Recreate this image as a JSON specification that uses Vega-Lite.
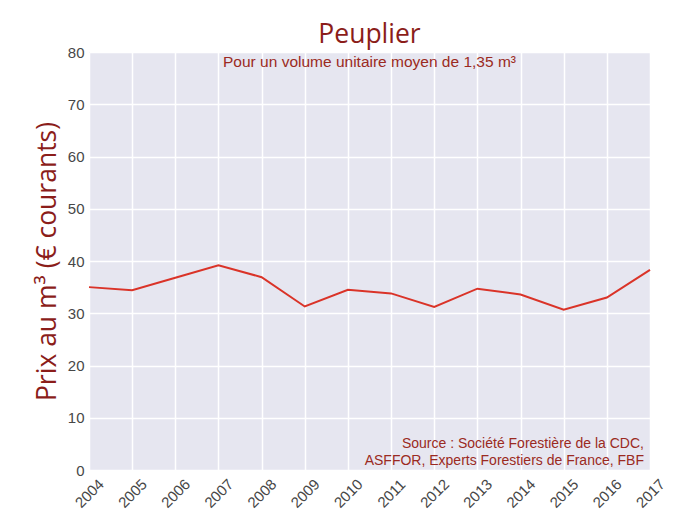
{
  "$schema": "https://vega.github.io/schema/vega-lite/v6.json",
  "autosize": {"type": "none"},
  "width": 561,
  "height": 418,
  "padding": {"left": 89, "top": 52, "right": 33, "bottom": 53},
  "background": "white",
  "title": {
    "text": "Peuplier",
    "anchor": "middle",
    "font": "Open Sans",
    "fontSize": 26.5,
    "fontWeight": "normal",
    "color": "#8B1D1A",
    "offset": -3
  },
  "config": {
    "view": {"fill": "#E6E6F0", "stroke": null},
    "axis": {
      "domain": false,
      "ticks": false,
      "grid": true,
      "gridColor": "#FFFFFF",
      "gridWidth": 1.5,
      "labelFont": "Liberation Sans",
      "labelFontSize": 15,
      "labelColor": "#474747"
    }
  },
  "layer": [
    {
      "data": {
        "values": [
          {"year": 2004, "price": 35.0},
          {"year": 2005, "price": 34.4},
          {"year": 2006, "price": 36.8},
          {"year": 2007, "price": 39.2},
          {"year": 2008, "price": 36.9},
          {"year": 2009, "price": 31.3},
          {"year": 2010, "price": 34.5},
          {"year": 2011, "price": 33.8},
          {"year": 2012, "price": 31.2},
          {"year": 2013, "price": 34.7},
          {"year": 2014, "price": 33.6},
          {"year": 2015, "price": 30.7},
          {"year": 2016, "price": 33.0},
          {"year": 2017, "price": 38.3}
        ]
      },
      "mark": {"type": "line", "color": "#DA3328", "strokeWidth": 2},
      "encoding": {
        "x": {
          "field": "year",
          "type": "quantitative",
          "scale": {"domain": [2004, 2017], "nice": false, "zero": false},
          "axis": {
            "title": null,
            "values": [2004, 2005, 2006, 2007, 2008, 2009, 2010, 2011, 2012, 2013, 2014, 2015, 2016, 2017],
            "format": "d",
            "labelAngle": -45,
            "labelAlign": "center",
            "labelBaseline": "middle",
            "labelPadding": 23,
            "labelOverlap": false,
            "labelBound": false,
            "labelFlush": false
          }
        },
        "y": {
          "field": "price",
          "type": "quantitative",
          "scale": {"domain": [0, 80], "nice": false},
          "axis": {
            "values": [0, 10, 20, 30, 40, 50, 60, 70, 80],
            "labelPadding": 5,
            "title": "Prix au m³ (€ courants)",
            "titleFont": "Open Sans",
            "titleFontSize": 26.5,
            "titleFontWeight": "normal",
            "titleColor": "#8B1D1A",
            "titlePadding": 6
          }
        }
      }
    },
    {
      "data": {"values": [{"label": "Pour un volume unitaire moyen de 1,35 m³", "x": 2010.5, "y": 77.2}]},
      "mark": {
        "type": "text",
        "font": "Liberation Sans",
        "fontSize": 15.5,
        "fill": "#9B2A22",
        "align": "center",
        "baseline": "alphabetic"
      },
      "encoding": {
        "text": {"field": "label"},
        "x": {"field": "x", "type": "quantitative"},
        "y": {"field": "y", "type": "quantitative"}
      }
    },
    {
      "data": {
        "values": [
          {"label": "Source : Société Forestière de la CDC,", "x": 2016.86, "y": 4.2},
          {"label": "ASFFOR, Experts Forestiers de France, FBF", "x": 2016.86, "y": 0.95}
        ]
      },
      "mark": {
        "type": "text",
        "font": "Liberation Sans",
        "fontSize": 14,
        "fill": "#9B2A22",
        "align": "right",
        "baseline": "alphabetic"
      },
      "encoding": {
        "text": {"field": "label"},
        "x": {"field": "x", "type": "quantitative"},
        "y": {"field": "y", "type": "quantitative"}
      }
    }
  ]
}
